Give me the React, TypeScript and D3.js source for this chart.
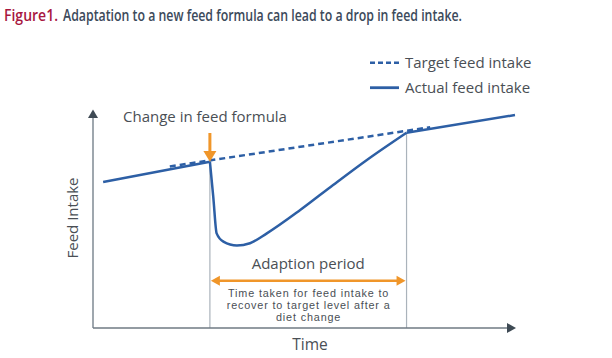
import React from "react";
import * as d3 from "d3";

// Abstract time (0-100) and feed intake (0-100) units
const actualBefore: [number, number][] = [
  [2.4, 67.0],
  [27.7, 76.3],
];
const actualAdaptation: [number, number][] = [
  [27.7, 76.3],
  [28.5, 60.2],
  [29.3, 43.4],
  [30.9, 39.6],
  [34.1, 37.8],
  [37.2, 38.9],
  [41.2, 43.4],
  [49.1, 54.1],
  [56.9, 65.6],
  [64.9, 77.1],
  [74.3, 89.6],
];
const actualAfter: [number, number][] = [
  [74.3, 89.6],
  [100, 97.7],
];
const target: [number, number][] = [
  [18.2, 74.1],
  [79.9, 92.1],
];
const changeTime = 27.7;
const recoveryTime = 74.3;
const legendLabels = ["Target feed intake", "Actual feed intake"];
const noteLines = [
  "Time taken for feed intake to",
  "recover to target level after a",
  "diet change",
];

const W = 612;
const H = 358;
const BLUE = "#2d5fa5";
const ORANGE = "#f0962a";
const TEXT = "#4a4f55";
const FONT = "'Open Sans', 'Noto Sans', sans-serif";
const NOTE_FONT = "'Liberation Sans', Arial, sans-serif";

export default function App() {
  const x = d3.scaleLinear().domain([0, 100]).range([93, 515]);
  const y = d3.scaleLinear().domain([0, 100]).range([328, 110]);
  const lin = d3
    .line<[number, number]>()
    .x((d) => x(d[0]))
    .y((d) => y(d[1]));
  const smooth = d3
    .line<[number, number]>()
    .x((d) => x(d[0]))
    .y((d) => y(d[1]))
    .curve(d3.curveMonotoneX);

  const x0 = x(0);
  const y0 = y(0);
  const xc = x(changeTime);
  const xr = x(recoveryTime);
  const yChange = y(actualBefore[1][1]);
  const yRec = y(actualAdaptation[actualAdaptation.length - 1][1]);
  const mid = (xc + xr) / 2;
  const arrowY = 280.7;

  return (
    <svg
      width={W}
      height={H}
      style={{ position: "absolute", left: 0, top: 0, background: "#fff" }}
    >
      {/* Title */}
      <text
        x={4}
        y={20.5}
        fontFamily={FONT}
        fontSize={17}
        fontWeight={600}
        fill="#a8173f"
        textLength={54}
        lengthAdjust="spacingAndGlyphs"
      >
        Figure1.
      </text>
      <text
        x={63}
        y={20.5}
        fontFamily={FONT}
        fontSize={17}
        fontWeight={600}
        fill="#3c4a5b"
        textLength={399}
        lengthAdjust="spacingAndGlyphs"
      >
        Adaptation to a new feed formula can lead to a drop in feed intake.
      </text>

      {/* Legend */}
      <line
        x1={370}
        x2={399}
        y1={62.7}
        y2={62.7}
        stroke={BLUE}
        strokeWidth={2.5}
        strokeDasharray="5 3"
      />
      <text x={405} y={68.3} fontFamily={FONT} fontSize={15} fill={TEXT}>
        {legendLabels[0]}
      </text>
      <line
        x1={370}
        x2={399}
        y1={87.7}
        y2={87.7}
        stroke={BLUE}
        strokeWidth={2.8}
      />
      <text x={405} y={92.5} fontFamily={FONT} fontSize={15} fill={TEXT}>
        {legendLabels[1]}
      </text>

      {/* Guide lines */}
      <line x1={xc} x2={xc} y1={yChange} y2={y0} stroke="#aab3bb" strokeWidth={1.2} />
      <line x1={xr} x2={xr} y1={yRec} y2={y0} stroke="#aab3bb" strokeWidth={1.2} />

      {/* Axes */}
      <line x1={x0} x2={x0} y1={y0} y2={117} stroke="#7f8a93" strokeWidth={1.5} />
      <path d={`M${x0 - 5},118 L${x0},109.5 L${x0 + 5},118 Z`} fill="#3e4a54" />
      <line x1={x0} x2={508} y1={y0} y2={y0} stroke="#6f7a83" strokeWidth={1.5} />
      <path d={`M507,${y0 - 5} L516,${y0} L507,${y0 + 5} Z`} fill="#3e4a54" />

      {/* Lines */}
      <path
        d={lin(target) || ""}
        fill="none"
        stroke={BLUE}
        strokeWidth={2.5}
        strokeDasharray="6 4"
      />
      <path d={lin(actualBefore) || ""} fill="none" stroke={BLUE} strokeWidth={2.5} />
      <path d={smooth(actualAdaptation) || ""} fill="none" stroke={BLUE} strokeWidth={2.5} />
      <path d={lin(actualAfter) || ""} fill="none" stroke={BLUE} strokeWidth={2.5} />

      {/* Change annotation */}
      <text
        x={205}
        y={122}
        textAnchor="middle"
        fontFamily={FONT}
        fontSize={15}
        fill={TEXT}
      >
        Change in feed formula
      </text>
      <line x1={xc} x2={xc} y1={133} y2={152} stroke={ORANGE} strokeWidth={3} />
      <path
        d={`M${xc - 6.5},151 L${xc + 6.5},151 L${xc},${yChange} Z`}
        fill={ORANGE}
      />

      {/* Adaption period */}
      <text
        x={mid}
        y={269}
        textAnchor="middle"
        fontFamily={FONT}
        fontSize={15}
        fill={TEXT}
      >
        Adaption period
      </text>
      <line
        x1={xc + 8}
        x2={xr - 8}
        y1={arrowY}
        y2={arrowY}
        stroke={ORANGE}
        strokeWidth={2.5}
      />
      <path
        d={`M${xc + 1},${arrowY} L${xc + 10},${arrowY - 5} L${xc + 10},${arrowY + 5} Z`}
        fill={ORANGE}
      />
      <path
        d={`M${xr - 1},${arrowY} L${xr - 10},${arrowY - 5} L${xr - 10},${arrowY + 5} Z`}
        fill={ORANGE}
      />
      {noteLines.map((t, i) => (
        <text
          key={i}
          x={mid + 0.4}
          y={296.5 + i * 12.1}
          textAnchor="middle"
          fontFamily={NOTE_FONT}
          fontSize={10.8}
          letterSpacing={0.85}
          fill={TEXT}
        >
          {t}
        </text>
      ))}

      {/* Axis titles */}
      <text
        x={310}
        y={350}
        textAnchor="middle"
        fontFamily={FONT}
        fontSize={15.5}
        fill={TEXT}
      >
        Time
      </text>
      <text
        transform={`translate(78,218) rotate(-90)`}
        textAnchor="middle"
        fontFamily={FONT}
        fontSize={15}
        fill={TEXT}
      >
        Feed Intake
      </text>
    </svg>
  );
}
